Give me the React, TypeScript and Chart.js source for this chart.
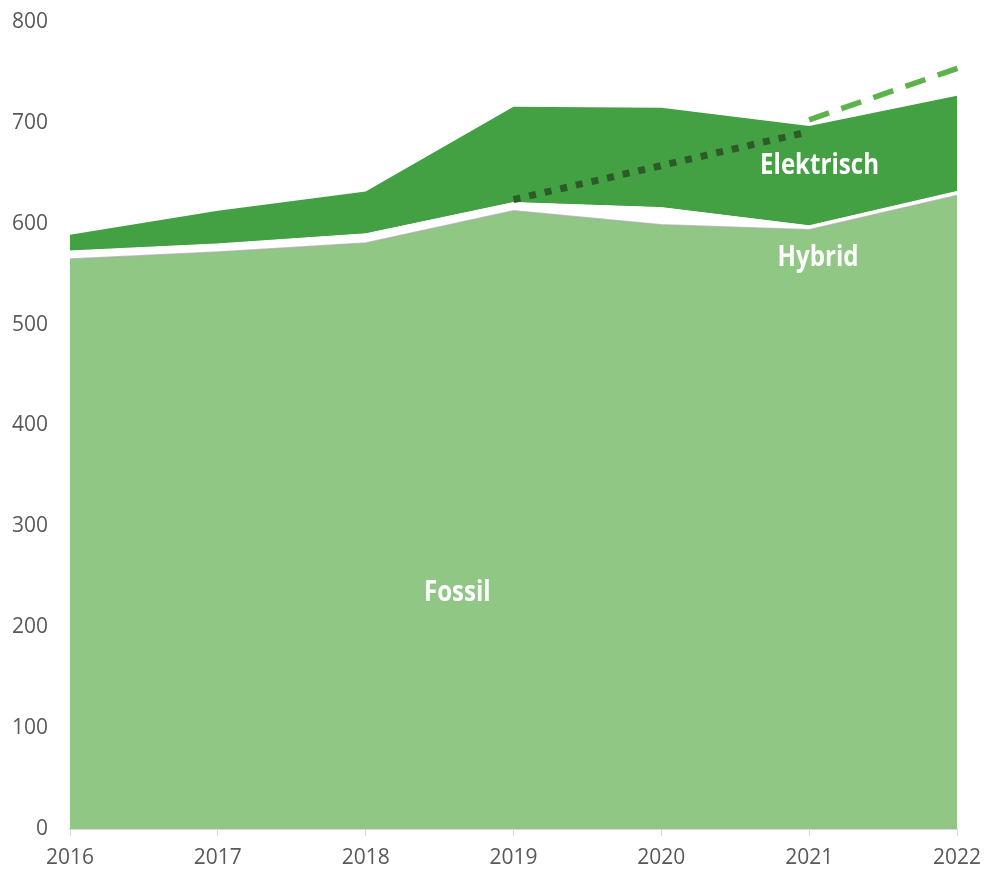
import React, { useEffect, useRef } from "react";
import { Chart, registerables } from "chart.js";

Chart.register(...registerables);

const years = [2016, 2017, 2018, 2019, 2020, 2021, 2022];
const fossil = [565, 572, 581, 613, 599, 594, 628];
const hybrid = [8, 8, 9, 8, 17, 4, 4];
const elektrisch = [16, 33, 42, 95, 99, 99, 95];
const trendYears = [2019, 2020.96];
const trendValues = [624, 690];
const goalYears = [2021, 2022.08];
const goalValues = [703, 758];
const yTicks = [0, 100, 200, 300, 400, 500, 600, 700, 800];
const areaLabels = [
  { text: "Elektrisch", x: 2021.07, y: 657 },
  { text: "Hybrid", x: 2021.06, y: 566 },
  { text: "Fossil", x: 2018.62, y: 234 },
];

const labelPlugin = {
  id: "areaLabels",
  afterDatasetsDraw(chart: any) {
    const { ctx, scales } = chart;
    ctx.save();
    ctx.fillStyle = "#ffffff";
    ctx.font = "bold 28px 'Open Sans', sans-serif";
    ctx.textAlign = "center";
    ctx.textBaseline = "middle";
    areaLabels.forEach((l) => {
      const px = scales.x.getPixelForValue(l.x);
      const py = scales.y.getPixelForValue(l.y);
      ctx.save();
      ctx.translate(px, py);
      ctx.scale(0.86, 1);
      ctx.fillText(l.text, 0, 0);
      ctx.restore();
    });
    ctx.restore();
  },
};

export default function App() {
  const ref = useRef<HTMLCanvasElement>(null);
  useEffect(() => {
    if (!ref.current) return;
    const pts = (xs: number[], ys: number[]) => xs.map((x, i) => ({ x, y: ys[i] }));
    const chart = new Chart(ref.current, {
      type: "line",
      data: {
        datasets: [
          {
            label: "Fossil",
            data: pts(years, fossil),
            backgroundColor: "#91c785",
            borderColor: "rgba(170,170,170,0.7)",
            borderWidth: 1.5,
            fill: "origin",
            pointRadius: 0,
            stack: "areas",
            order: 2,
          },
          {
            label: "Hybrid",
            data: pts(years, hybrid),
            backgroundColor: "#ffffff",
            borderColor: "#ffffff",
            borderWidth: 1,
            fill: "-1",
            pointRadius: 0,
            stack: "areas",
            order: 2,
          },
          {
            label: "Elektrisch",
            data: pts(years, elektrisch),
            backgroundColor: "#43a043",
            borderColor: "#43a043",
            borderWidth: 0,
            fill: "-1",
            pointRadius: 0,
            stack: "areas",
            order: 2,
          },
          {
            label: "Trend",
            data: pts(trendYears, trendValues),
            borderColor: "#2d5a29",
            borderWidth: 7,
            borderDash: [7, 9],
            borderCapStyle: "butt",
            fill: false,
            pointRadius: 0,
            stack: "trend",
            order: 0,
          },
          {
            label: "Ziel",
            data: pts(goalYears, goalValues),
            borderColor: "#5db34b",
            borderWidth: 5.5,
            borderDash: [21, 13],
            borderCapStyle: "butt",
            fill: false,
            pointRadius: 0,
            stack: "goal",
            clip: false as any,
            order: 0,
          },
        ],
      },
      options: {
        animation: false,
        responsive: true,
        maintainAspectRatio: false,
        layout: { padding: { top: 22, right: 27, bottom: 0, left: 0 } },
        plugins: { legend: { display: false }, tooltip: { enabled: false } },
        scales: {
          x: {
            type: "linear",
            min: 2016,
            max: 2022,
            grid: { display: true, drawOnChartArea: false, color: "#d9d9d9", tickLength: 7 },
            border: { display: true, color: "#d9d9d9", width: 2 },
            afterFit: (s: any) => {
              s.height = 41;
              s.paddingLeft = 0;
              s.paddingRight = 0;
            },
            ticks: {
              stepSize: 1,
              padding: 9,
              color: "#595959",
              font: { family: "'Open Sans', sans-serif", size: 21 },
              callback: (v: any) => String(v),
              maxRotation: 0,
            },
          },
          y: {
            stacked: true,
            min: 0,
            max: 800,
            grid: { display: false },
            border: { display: false },
            afterFit: (s: any) => {
              s.width = 70;
              s.paddingTop = 0;
              s.paddingBottom = 0;
            },
            afterBuildTicks: (s: any) => {
              s.ticks = yTicks.map((v) => ({ value: v }));
            },
            ticks: {
              padding: 14,
              color: "#595959",
              font: { family: "'Open Sans', sans-serif", size: 21 },
            },
          },
        },
      },
      plugins: [labelPlugin],
    });
    return () => chart.destroy();
  }, []);
  return (
    <div style={{ position: "fixed", left: 0, top: 0, width: 984, height: 870 }}>
      <canvas ref={ref} />
    </div>
  );
}
